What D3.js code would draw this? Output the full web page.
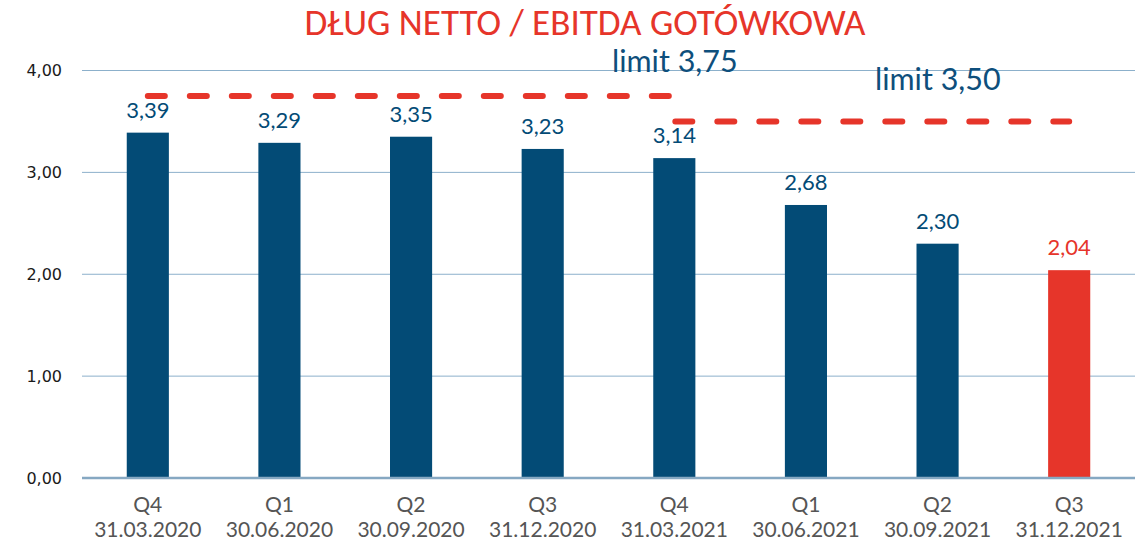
<!DOCTYPE html>
<html><head><meta charset="utf-8">
<script src="https://cdn.jsdelivr.net/npm/d3@7"></script>
<style>body{margin:0;background:#fff}svg{display:block}</style>
</head><body>
<script>
const quarters = ["Q4","Q1","Q2","Q3","Q4","Q1","Q2","Q3"];
const dates = ["31.03.2020","30.06.2020","30.09.2020","31.12.2020","31.03.2021","30.06.2021","30.09.2021","31.12.2021"];
const values = [3.39,3.29,3.35,3.23,3.14,2.68,2.30,2.04];
const highlight = [false,false,false,false,false,false,false,true];
const yTicks = [0,1,2,3,4];
const limits = [ {value:3.75, from:0, to:4, label:"limit 3,75"}, {value:3.50, from:4, to:7, label:"limit 3,50"} ];
const title = "DŁUG NETTO / EBITDA GOTÓWKOWA";

const W=1145,H=544;
const m={left:82,right:10,top:70.5,bottom:66};
const svg=d3.select("body").append("svg").attr("width",W).attr("height",H);
const x=d3.scaleBand().domain(d3.range(values.length)).range([m.left,W-m.right]).paddingInner(0.68).paddingOuter(0.34);
const y=d3.scaleLinear().domain([0,4]).range([H-m.bottom,m.top]);
const navy="#034b76", red="#e6352a", grid="#8cb0cb";
const fmt=v=>d3.format(".2f")(v).replace(".",",");

// grid
svg.append("g").selectAll("line").data(yTicks.filter(d=>d>0)).join("line")
 .attr("x1",m.left).attr("x2",W-m.right).attr("y1",d=>y(d)).attr("y2",d=>y(d))
 .attr("stroke",grid).attr("stroke-width",1);
// y labels
svg.append("g").selectAll("text").data(yTicks).join("text")
 .attr("x",62).attr("y",d=>y(d)).attr("dy","0.36em").attr("text-anchor","end")
 .attr("font-family","DejaVu Sans, Verdana, sans-serif").attr("font-size",16).attr("fill","#1a1a1a")
 .text(fmt);
// bars
svg.append("g").selectAll("rect").data(values).join("rect")
 .attr("x",(d,i)=>x(i)).attr("width",x.bandwidth()).attr("y",d=>y(d)).attr("height",d=>y(0)-y(d))
 .attr("fill",(d,i)=>highlight[i]?red:navy);
// zero axis
svg.append("line").attr("x1",m.left).attr("x2",W-m.right).attr("y1",y(0)).attr("y2",y(0))
 .attr("stroke","#86a8c2").attr("stroke-width",2.5);
// value labels
svg.append("g").selectAll("text").data(values).join("text")
 .attr("x",(d,i)=>x(i)+x.bandwidth()/2).attr("y",d=>y(d)-15).attr("text-anchor","middle")
 .attr("font-family","Lato, sans-serif").attr("font-size",22).attr("fill",(d,i)=>highlight[i]?red:navy)
 .text(fmt);
// x labels
const xl=svg.append("g").selectAll("text").data(values).join("text")
 .attr("text-anchor","middle").attr("font-family","Lato, sans-serif").attr("font-size",21).attr("fill","#555555");
xl.append("tspan").attr("x",(d,i)=>x(i)+x.bandwidth()/2).attr("y",512).text((d,i)=>quarters[i]);
xl.append("tspan").attr("x",(d,i)=>x(i)+x.bandwidth()/2).attr("y",537).text((d,i)=>dates[i]);
// limit lines
const cx=i=>x(i)+x.bandwidth()/2;
svg.append("g").selectAll("line").data(limits).join("line")
 .attr("x1",d=>cx(d.from)+(d.from===0?0:1)).attr("x2",d=>cx(d.to)).attr("y1",d=>y(d.value)).attr("y2",d=>y(d.value))
 .attr("stroke",red).attr("stroke-width",6).attr("stroke-linecap","round").attr("stroke-dasharray","17,25");
// limit labels
const limPos=[{x:612,y:72},{x:875,y:90}];
svg.append("g").selectAll("text").data(limits).join("text")
 .attr("x",(d,i)=>limPos[i].x).attr("y",(d,i)=>limPos[i].y)
 .attr("font-family","Lato, sans-serif").attr("font-size",30.5).attr("fill","#0e4f7c")
 .text(d=>d.label);
// title
const t=svg.append("text").attr("x",585).attr("y",35).attr("text-anchor","middle")
 .attr("font-family","Carlito, 'Open Sans', sans-serif").attr("font-size",31).attr("fill",red).text(title);
const bw=t.node().getComputedTextLength();
t.attr("font-size",31*561/bw);
</script>
</body></html>
